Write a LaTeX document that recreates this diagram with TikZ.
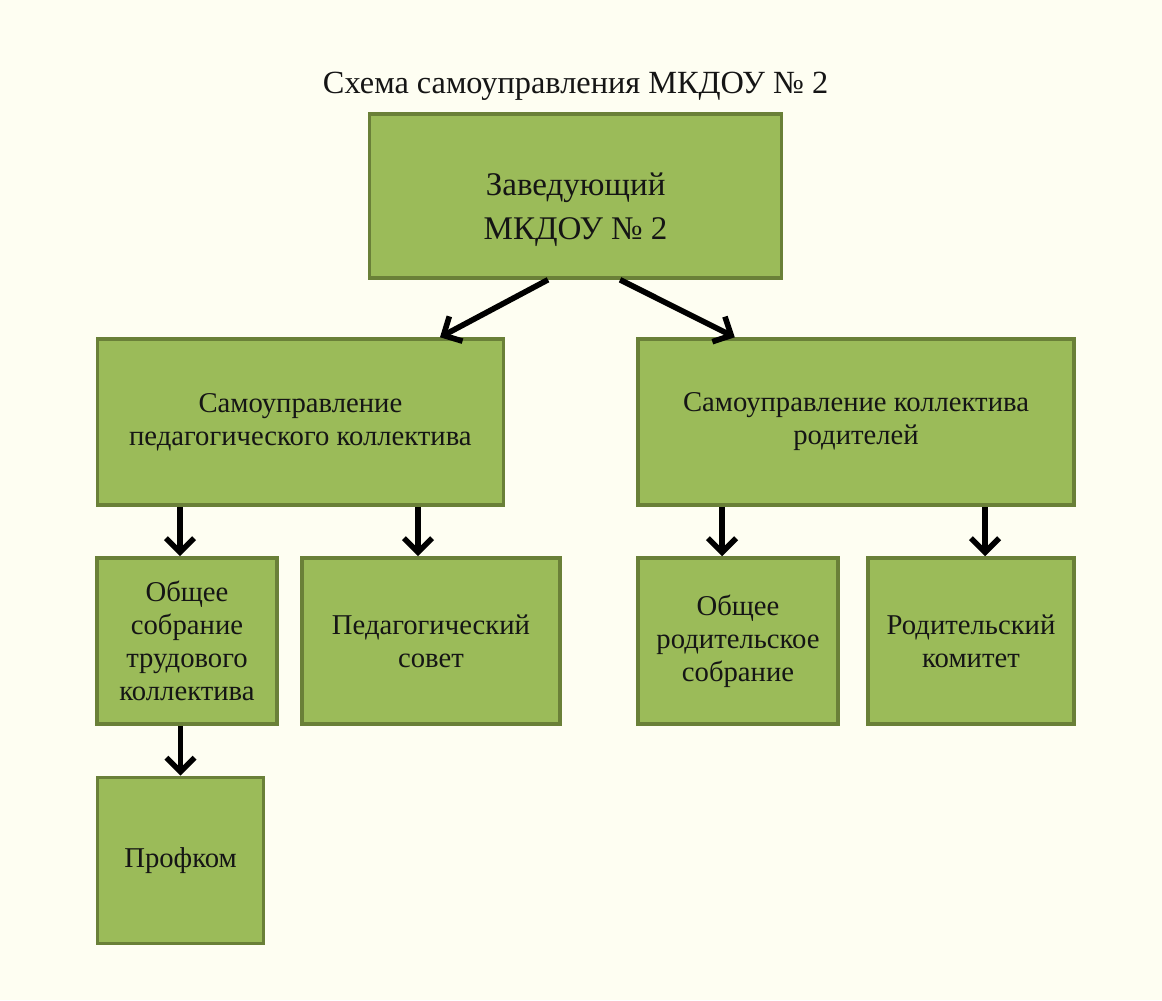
\documentclass[tikz,border=0pt]{standalone}
\usepackage{fontspec}
\setmainfont{Liberation Serif}
\usepackage{tikz}
\usetikzlibrary{arrows.meta,positioning}
\definecolor{bgcream}{HTML}{FEFEF2}
\definecolor{boxfill}{HTML}{9BBB59}
\definecolor{boxline}{HTML}{6A8038}
\definecolor{txtdark}{HTML}{151515}

\begin{document}
\begin{tikzpicture}[
  unit/.style={draw=boxline,fill=boxfill,line width=2.5pt,align=center,inner sep=0pt,text=txtdark,
    font=\fontsize{20.4}{23.5}\selectfont},
  arr/.style={line width=4pt,-{Straight Barb[length=10pt,width=20pt]}}
]
\fill[bgcream] (0,0) rectangle (29.05,25);
\useasboundingbox (0,0) rectangle (29.05,25);
\node[font=\fontsize{23}{27}\selectfont,text=txtdark] (title) at (14.39,22.84) {Схема самоуправления МКДОУ № 2};
\node[unit,minimum width=10.3cm,minimum height=4.1cm] (zav) at (14.39,20.1) {};
\node[align=center,text=txtdark,font=\fontsize{23.5}{31.3}\selectfont] (zavtxt) at ([yshift=-0.35cm]zav.center) {Заведующий\\ МКДОУ № 2};
\node[unit,minimum width=10.15cm,minimum height=4.15cm] (ped) at (7.51,14.45) {Самоуправление\\ педагогического коллектива};
\node[unit,minimum width=10.9cm,minimum height=4.15cm] (rod) at (21.4,14.45) {Самоуправление коллектива\\ родителей};
\node[unit,minimum width=4.5cm,minimum height=4.15cm] (obsh) at (4.675,8.975) {Общее\\ собрание\\ трудового\\ коллектива};
\node[unit,minimum width=6.45cm,minimum height=4.15cm] (sov) at (10.775,8.975) {Педагогический\\ совет};
\node[unit,minimum width=5cm,minimum height=4.15cm] (orod) at (18.45,8.975) {Общее\\ родительское\\ собрание};
\node[unit,minimum width=5.15cm,minimum height=4.15cm] (kom) at (24.275,8.975) {Родительский\\ комитет};
\node[unit,minimum width=4.15cm,minimum height=4.15cm] (prof) at (4.5125,3.4875) {Профком};
\draw[arr] ([xshift=-0.69cm]zav.south) -- ([xshift=3.49cm]ped.north);
\draw[arr] ([xshift=1.11cm]zav.south) -- ([xshift=-3.03cm]rod.north);
\draw[arr] ([xshift=-0.175cm]obsh.north |- ped.south) -- ([xshift=-0.175cm]obsh.north);
\draw[arr] ([xshift=-0.325cm]sov.north |- ped.south) -- ([xshift=-0.325cm]sov.north);
\draw[arr] ([xshift=-0.4cm]orod.north |- rod.south) -- ([xshift=-0.4cm]orod.north);
\draw[arr] ([xshift=0.35cm]kom.north |- rod.south) -- ([xshift=0.35cm]kom.north);
\draw[arr] (obsh.south -| prof.north) -- (prof.north);
\end{tikzpicture}
\end{document}
